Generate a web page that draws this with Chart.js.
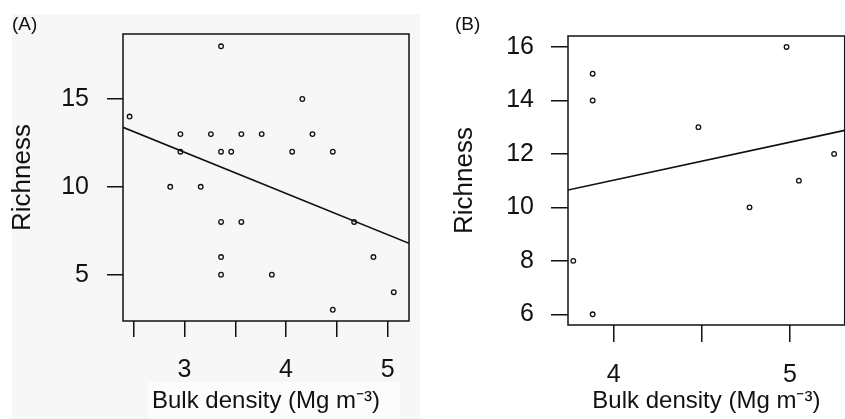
<!DOCTYPE html>
<html>
<head>
<meta charset="utf-8">
<script src="https://cdn.jsdelivr.net/npm/chart.js@4.4.1/dist/chart.umd.min.js"></script>
<style>
    body { margin: 0; width: 845px; height: 419px; overflow: hidden; background: #fff; position: relative; font-family: "Liberation Sans", Arial, sans-serif; }
    #bgA { position: absolute; left: 12px; top: 14px; width: 408px; height: 405px; background: #f7f7f7; }
    #bgTitleA { position: absolute; left: 148px; top: 382px; width: 252px; height: 37px; background: #fcfcfc; }
    #wrapA { position: absolute; left: 0; top: 0; width: 420px; height: 419px; }
    #wrapB { position: absolute; left: 420px; top: 0; width: 430px; height: 419px; }
    .tag { position: absolute; top: 13px; font-size: 19px; color: #111; }
    canvas { display: block; }
</style>
</head>
<body>
<div id="bgA"></div>
<div id="bgTitleA"></div>
<div id="wrapA"><canvas id="chartA" width="420" height="419"></canvas><span class="tag" style="left:12px">(A)</span></div>
<div id="wrapB"><canvas id="chartB" width="430" height="419"></canvas><span class="tag" style="left:35px">(B)</span></div>
<script>
// panel A
const xTicksA = [2.5, 3, 3.5, 4, 4.5, 5];
const xLabelsA = ['', '3', '', '4', '', '5'];
const yTicksA = [5, 10, 15];
const densityA = [2.46, 2.96, 2.96, 2.86, 3.16, 3.26, 3.36, 3.36, 3.46, 3.56, 3.76, 4.06, 4.16, 4.26, 4.46, 3.36, 3.56, 3.36, 3.36, 3.86, 4.67, 4.86, 5.06, 4.46];
const richnessA = [14, 13, 12, 10, 10, 13, 18, 12, 12, 13, 13, 12, 15, 13, 12, 8, 8, 6, 5, 5, 8, 6, 4, 3];
const fitXA = [2.395, 5.21];
const fitYA = [13.39, 6.78];

// panel B
const xTicksB = [4, 4.5, 5];
const xLabelsB = ['4', '', '5'];
const yTicksB = [6, 8, 10, 12, 14, 16];
const densityB = [3.88, 3.88, 4.48, 4.98, 5.25, 5.05, 4.77, 3.77, 3.88];
const richnessB = [15, 14, 13, 16, 12, 11, 10, 8, 6];
const fitXB = [3.74, 5.31];
const fitYB = [10.65, 12.88];

const FONT = '"Liberation Sans", Arial, sans-serif';
const INK = '#111';

const boxPlugin = {
    id: 'box',
    afterDatasetsDraw(chart) {
        const a = chart.chartArea;
        const ctx = chart.ctx;
        ctx.save();
        ctx.strokeStyle = INK;
        ctx.lineWidth = 1.5;
        ctx.strokeRect(a.left, a.top, a.right - a.left, a.bottom - a.top);
        ctx.restore();
    }
};

function makePanel(id, p) {
    const pts = p.xs.map((x, i) => ({ x: x, y: p.ys[i] }));
    const fit = p.fitX.map((x, i) => ({ x: x, y: p.fitY[i] }));
    return new Chart(document.getElementById(id), {
        type: 'scatter',
        data: {
            datasets: [
                {
                    data: pts,
                    pointRadius: 2.3,
                    pointBorderWidth: 1.3,
                    borderColor: INK,
                    backgroundColor: 'rgba(0,0,0,0)'
                },
                {
                    data: fit,
                    showLine: true,
                    pointRadius: 0,
                    borderColor: INK,
                    borderWidth: 1.6
                }
            ]
        },
        options: {
            responsive: false,
            animation: false,
            events: [],
            layout: { padding: { top: p.top, right: p.right, left: 0, bottom: 0 } },
            plugins: { legend: { display: false }, tooltip: { enabled: false } },
            scales: {
                x: {
                    type: 'linear',
                    min: p.xMin,
                    max: p.xMax,
                    afterBuildTicks: s => { s.ticks = p.xTicks.map(v => ({ value: v })); },
                    afterFit: s => { s.height = p.xHeight; },
                    border: { display: false },
                    grid: { drawOnChartArea: false, color: INK, lineWidth: 1.5, tickLength: p.tickLen },
                    ticks: {
                        autoSkip: false,
                        maxRotation: 0,
                        padding: p.xPad,
                        color: INK,
                        font: { family: FONT, size: 25 },
                        callback: (v, i) => p.xLabels[i]
                    },
                    title: {
                        display: true,
                        text: 'Bulk density (Mg m\u207B\u00B3)',
                        color: INK,
                        font: { family: FONT, size: 24 },
                        padding: { top: 0, bottom: 3 }
                    }
                },
                y: {
                    min: p.yMin,
                    max: p.yMax,
                    afterBuildTicks: s => { s.ticks = p.yTicks.map(v => ({ value: v })); },
                    afterFit: s => { s.width = p.yWidth; },
                    border: { display: false },
                    grid: { drawOnChartArea: false, color: INK, lineWidth: 1.5, tickLength: p.tickLen },
                    ticks: {
                        padding: p.yPad,
                        color: INK,
                        font: { family: FONT, size: 25 },
                        callback: v => String(v)
                    },
                    title: {
                        display: true,
                        text: 'Richness',
                        color: INK,
                        font: { family: FONT, size: 26 },
                        padding: { top: p.titlePad, bottom: 0 }
                    }
                }
            }
        },
        plugins: [boxPlugin]
    });
}

makePanel('chartA', {
    xs: densityA, ys: richnessA, fitX: fitXA, fitY: fitYA,
    xTicks: xTicksA, xLabels: xLabelsA, yTicks: yTicksA,
    xMin: 2.395, xMax: 5.21, yMin: 2.36, yMax: 18.7,
    top: 34, right: 11, yWidth: 123, xHeight: 98,
    tickLen: 16, xPad: 18, yPad: 18, titlePad: 7
});

makePanel('chartB', {
    xs: densityB, ys: richnessB, fitX: fitXB, fitY: fitYB,
    xTicks: xTicksB, xLabels: xLabelsB, yTicks: yTicksB,
    xMin: 3.74, xMax: 5.31, yMin: 5.60, yMax: 16.41,
    top: 36, right: 3, yWidth: 148, xHeight: 94,
    tickLen: 17, xPad: 18, yPad: 17, titlePad: 29
});
</script>
</body>
</html>
